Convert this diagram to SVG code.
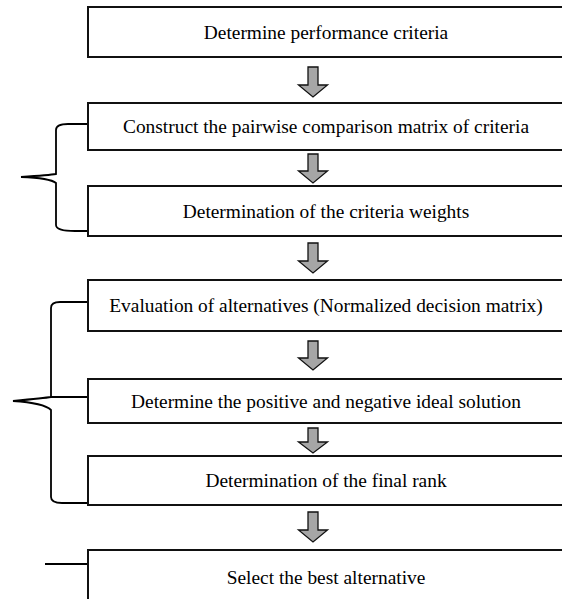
<svg xmlns="http://www.w3.org/2000/svg" width="562" height="599" viewBox="0 0 562 599">
<style>
.box{fill:#fff;stroke:#111;stroke-width:2}
.lbl{font-family:"Liberation Serif","Times New Roman",serif;font-size:19.4px;fill:#000;text-anchor:middle}
.arr{fill:#a6a6a6;stroke:#111;stroke-width:1.3;stroke-linejoin:miter}
.brace{fill:none;stroke:#000;stroke-width:1.8}
</style>
<rect width="562" height="599" fill="#fff"/>
<g id="connectors">
<path class="arr" d="M308,67 H318 V85 H327.5 L313,97 L298.5,85 H308 Z"/>
<path class="arr" d="M308,154 H318 V171 H327.5 L313,183 L298.5,171 H308 Z"/>
<path class="arr" d="M308,243 H318 V261 H327.5 L313,273 L298.5,261 H308 Z"/>
<path class="arr" d="M308,341 H318 V358 H327.5 L313,370 L298.5,358 H308 Z"/>
<path class="arr" d="M308,428 H318 V442 H327.5 L313,453 L298.5,442 H308 Z"/>
<path class="arr" d="M308,512 H318 V530 H327.5 L313,542 L298.5,530 H308 Z"/>
<path class="brace" d="M87,124 H68 Q56,124 56,130 V174 Q50,175 21,177 Q50,178 56,183 V225 Q56,231 75,231 H87"/>
<path class="brace" d="M87,302 H60 Q51,302 51,308 V397 Q45,398 13,401 Q44,403 51,410 V497 Q51,503 62,503 H87"/>
<path class="brace" d="M87,397 H51"/>
<path class="brace" d="M45,564 H87"/>
</g>
<g id="n1"><rect class="box" x="88" y="7" width="477" height="50"/><text class="lbl" x="326" y="39">Determine performance criteria</text></g>
<g id="n2"><rect class="box" x="88" y="103" width="477" height="47"/><text class="lbl" x="326" y="133">Construct the pairwise comparison matrix of criteria</text></g>
<g id="n3"><rect class="box" x="88" y="186" width="477" height="50"/><text class="lbl" x="326" y="218">Determination of the criteria weights</text></g>
<g id="n4"><rect class="box" x="88" y="280" width="477" height="51"/><text class="lbl" x="326" y="312">Evaluation of alternatives (Normalized decision matrix)</text></g>
<g id="n5"><rect class="box" x="88" y="379" width="477" height="44"/><text class="lbl" x="326" y="408">Determine the positive and negative ideal solution</text></g>
<g id="n6"><rect class="box" x="88" y="456" width="477" height="49"/><text class="lbl" x="326" y="487">Determination of the final rank</text></g>
<g id="n7"><rect class="box" x="88" y="550" width="477" height="60"/><text class="lbl" x="326" y="584">Select the best alternative</text></g>
</svg>
